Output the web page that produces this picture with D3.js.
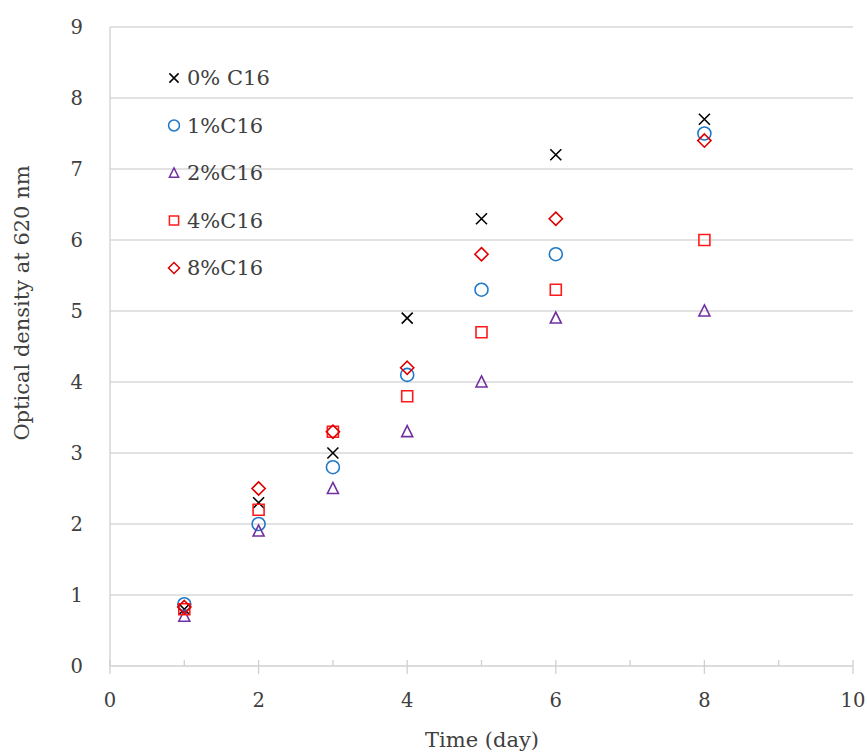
<!DOCTYPE html>
<html>
<head>
<meta charset="utf-8">
<script src="https://cdn.jsdelivr.net/npm/d3@7"></script>
<style>
	body { margin: 0; background: #fff; }
	text { font-family: "DejaVu Serif", "Liberation Serif", serif; fill: #404040; }
</style>
</head>
<body>
<div id="chart"></div>
<script>
// Optical density of cultures over time, one series per C16 concentration.

// Days sampled
var days = [1, 2, 3, 4, 5, 6, 8];

// Series names (legend order) and optical density values per day
var seriesNames = ["0% C16", "1%C16", "2%C16", "4%C16", "8%C16"];
var od_0pct = [0.80, 2.30, 3.00, 4.90, 6.30, 7.20, 7.70];
var od_1pct = [0.87, 2.00, 2.80, 4.10, 5.30, 5.80, 7.50];
var od_2pct = [0.70, 1.90, 2.50, 3.30, 4.00, 4.90, 5.00];
var od_4pct = [0.80, 2.20, 3.30, 3.80, 4.70, 5.30, 6.00];
var od_8pct = [0.83, 2.50, 3.30, 4.20, 5.80, 6.30, 7.40];

var xTicks = [0, 2, 4, 6, 8, 10];
var xMinorTicks = [1, 3, 5, 7, 9];
var yTicks = [0, 1, 2, 3, 4, 5, 6, 7, 8, 9];

var width = 867,
	height = 753;
var margin = { left: 110, right: 14, top: 27, bottom: 87 };

var x = d3.scaleLinear().domain([0, 10]).range([margin.left, width - margin.right]);
var y = d3.scaleLinear().domain([0, 9]).range([height - margin.bottom, margin.top]);

// marker style for each series
var styles = [
	{ shape: "cross",    color: "#000000" },
	{ shape: "circle",   color: "#1f78c8" },
	{ shape: "triangle", color: "#7030a0" },
	{ shape: "square",   color: "#ff1a1a" },
	{ shape: "diamond",  color: "#e00000" }
];

var series = [od_0pct, od_1pct, od_2pct, od_4pct, od_8pct].map(function(vals, i) {
	return {
		name: seriesNames[i],
		style: styles[i],
		points: days.map(function(d, j) { return { day: d, od: vals[j] }; })
	};
});

var svg = d3.select("#chart").append("svg")
	.attr("width", width)
	.attr("height", height);

// horizontal gridlines
svg.append("g")
	.selectAll("line")
	.data(yTicks.slice(1))
	.enter()
		.append("line")
		.attr("x1", x(0))
		.attr("x2", x(10))
		.attr("y1", function(d) { return y(d); })
		.attr("y2", function(d) { return y(d); })
		.style("stroke", "#d9d9d9")
		.style("stroke-width", "1.3px");

// y axis line (no ticks)
svg.append("line")
	.attr("x1", x(0)).attr("x2", x(0))
	.attr("y1", y(0)).attr("y2", y(9))
	.style("stroke", "#d0d0d0")
	.style("stroke-width", "1.3px");

// y tick labels
svg.append("g")
	.selectAll("text")
	.data(yTicks)
	.enter()
		.append("text")
		.attr("x", x(0) - 27)
		.attr("y", function(d) { return y(d); })
		.attr("dy", "0.35em")
		.attr("text-anchor", "end")
		.style("font-size", "19.5px")
		.text(function(d) { return d; });

// x axis with major ticks crossing and minor ticks inside
var xAxis = svg.append("g")
	.attr("transform", "translate(0," + y(0) + ")");
xAxis.append("line")
	.attr("x1", x(0)).attr("x2", x(10))
	.style("stroke", "#d0d0d0")
	.style("stroke-width", "1.3px");
xAxis.selectAll("line.major")
	.data(xTicks)
	.enter()
		.append("line")
		.attr("class", "major")
		.attr("x1", function(d) { return x(d); })
		.attr("x2", function(d) { return x(d); })
		.attr("y1", -6).attr("y2", 8)
		.style("stroke", "#d0d0d0")
		.style("stroke-width", "1.3px");
xAxis.selectAll("line.minor")
	.data(xMinorTicks)
	.enter()
		.append("line")
		.attr("class", "minor")
		.attr("x1", function(d) { return x(d); })
		.attr("x2", function(d) { return x(d); })
		.attr("y1", -6).attr("y2", 0)
		.style("stroke", "#d0d0d0")
		.style("stroke-width", "1.3px");
xAxis.selectAll("text")
	.data(xTicks)
	.enter()
		.append("text")
		.attr("x", function(d) { return x(d); })
		.attr("y", 41)
		.attr("text-anchor", "middle")
		.style("font-size", "19.5px")
		.text(function(d) { return d; });

// axis titles
svg.append("text")
	.attr("x", 482)
	.attr("y", 747)
	.attr("text-anchor", "middle")
	.style("font-size", "21px")
	.text("Time (day)");

svg.append("text")
	.attr("transform", "translate(29,303) rotate(-90)")
	.attr("text-anchor", "middle")
	.style("font-size", "21px")
	.text("Optical density at 620 nm");

// marker path generator
function markerPath(shape, s) {
	switch (shape) {
		case "cross":
			return "M" + (-s) + "," + (-s) + "L" + s + "," + s + "M" + (-s) + "," + s + "L" + s + "," + (-s);
		case "circle":
			return d3.symbol().type(d3.symbolCircle).size(Math.PI * s * s * 1.4)();
		case "triangle":
			return "M0," + (-s * 1.1) + "L" + (s * 1.0) + "," + (s * 0.9) + "L" + (-s * 1.0) + "," + (s * 0.9) + "Z";
		case "square":
			return "M" + (-s) + "," + (-s) + "H" + s + "V" + s + "H" + (-s) + "Z";
		case "diamond":
			return "M0," + (-s * 1.2) + "L" + (s * 1.2) + ",0L0," + (s * 1.2) + "L" + (-s * 1.2) + ",0Z";
	}
}

// points
series.forEach(function(ser) {
	svg.append("g")
		.selectAll("path")
		.data(ser.points)
		.enter()
			.append("path")
			.attr("transform", function(d) { return "translate(" + x(d.day) + "," + y(d.od) + ")"; })
			.attr("d", markerPath(ser.style.shape, 5.5))
			.style("fill", "none")
			.style("stroke", ser.style.color)
			.style("stroke-width", "1.6px");
});

// legend
var legend = svg.append("g")
	.attr("transform", "translate(174,78)");
var rows = legend.selectAll("g")
	.data(series)
	.enter()
		.append("g")
		.attr("transform", function(d, i) { return "translate(0," + (i * 47.5) + ")"; });
rows.append("path")
	.attr("d", function(d) { return markerPath(d.style.shape, 4.6); })
	.style("fill", "none")
	.style("stroke", function(d) { return d.style.color; })
	.style("stroke-width", "1.5px");
rows.append("text")
	.attr("x", 13)
	.attr("dy", "0.35em")
	.style("font-size", "21px")
	.text(function(d) { return d.name; });
</script>
</body>
</html>
